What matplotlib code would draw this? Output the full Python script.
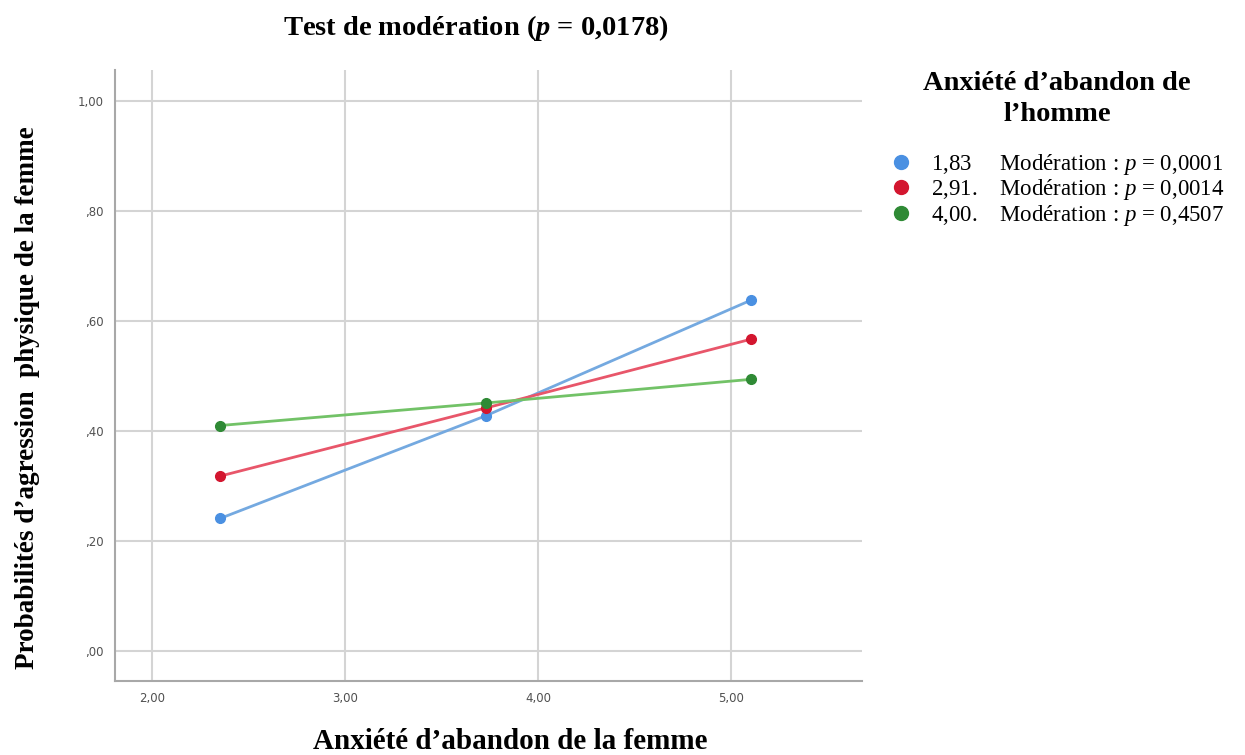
import numpy as np
import matplotlib.pyplot as plt
from matplotlib.lines import Line2D

# Probabilités prédites par niveau d'anxiété de l'homme
x_femme = [2.352, 3.731, 5.104]
p_bas = [0.241, 0.428, 0.638]
p_moyen = [0.318, 0.442, 0.567]
p_haut = [0.410, 0.451, 0.494]

niveaux = ['1,83', '2,91.', '4,00.']
p_moderation = ['0,0001', '0,0014', '0,4507']
espaces = ['     ', '    ', '    ']

line_colors = ['#74a9e0', '#e8566a', '#72c267']
marker_colors = ['#4a90e2', '#d3162f', '#2f8a35']

x_ticks = [2, 3, 4, 5]
x_tick_labels = ['2,00', '3,00', '4,00', '5,00']
y_ticks = [0, 0.2, 0.4, 0.6, 0.8, 1.0]
y_tick_labels = [',00', ',20', ',40', ',60', ',80', '1,00']

plt.rcParams['font.family'] = 'Liberation Serif'
plt.rcParams['mathtext.fontset'] = 'custom'
plt.rcParams['mathtext.rm'] = 'Liberation Serif'
plt.rcParams['mathtext.it'] = 'Liberation Serif:italic'
plt.rcParams['mathtext.bf'] = 'Liberation Serif:bold'
plt.rcParams['mathtext.bfit'] = 'Liberation Serif:italic:bold'

fig = plt.figure(figsize=(12.45, 7.55), dpi=100)
ax = fig.add_axes([0.0924, 0.098, 0.6, 0.809])

series = [p_bas, p_moyen, p_haut]
for vals, lc, mc in zip(series, line_colors, marker_colors):
    ax.plot(x_femme, vals, color=lc, linewidth=2, zorder=3)
    ax.plot(x_femme, vals, 'o', color=mc, markersize=7, zorder=4)

ax.set_xlim(1.808, 5.679)
ax.set_ylim(-0.0545, 1.056)
ax.set_xticks(x_ticks)
ax.set_xticklabels(x_tick_labels, family='DejaVu Sans', fontsize=8.5, color='#505050')
ax.set_yticks(y_ticks)
ax.set_yticklabels(y_tick_labels, family='DejaVu Sans', fontsize=8.5, color='#505050')
ax.tick_params(length=0, pad=8)
ax.grid(True, color='#d4d4d4', linewidth=1.5)
ax.set_axisbelow(True)
for side in ['top', 'right']:
    ax.spines[side].set_visible(False)
for side in ['left', 'bottom']:
    ax.spines[side].set_color('#a8a8a8')
    ax.spines[side].set_linewidth(1.5)

fig.text(0.382, 0.963, r'Test de modération ($\mathbfit{p}$ = 0,0178)',
         ha='center', va='center', fontsize=20.5, fontweight='bold')
fig.text(0.41, 0.008, 'Anxiété d’abandon de la femme', ha='center', va='baseline',
         fontsize=21, fontweight='bold')
fig.text(0.022, 0.474, 'Probabilités d’agression  physique de la femme', ha='center',
         va='center', rotation=90, fontsize=19.5, fontweight='bold')

# légende : titre à part, puis les trois niveaux
fig.text(0.849, 0.869, 'Anxiété d’abandon de\nl’homme', ha='center', va='center',
         fontsize=20.5, fontweight='bold', linespacing=1.3)
handles = [Line2D([], [], marker='o', linestyle='', color=c, markersize=10)
           for c in marker_colors]
labels = [f'{n}{s}Modération : $p$ = {p}' for n, s, p in zip(niveaux, espaces, p_moderation)]
fig.legend(handles, labels, loc='upper left', bbox_to_anchor=(0.707, 0.811),
           frameon=False, fontsize=16.5, handletextpad=0.8, labelspacing=0.02,
           handlelength=1.0, borderaxespad=0)

fig.savefig('out.png', dpi=100)
